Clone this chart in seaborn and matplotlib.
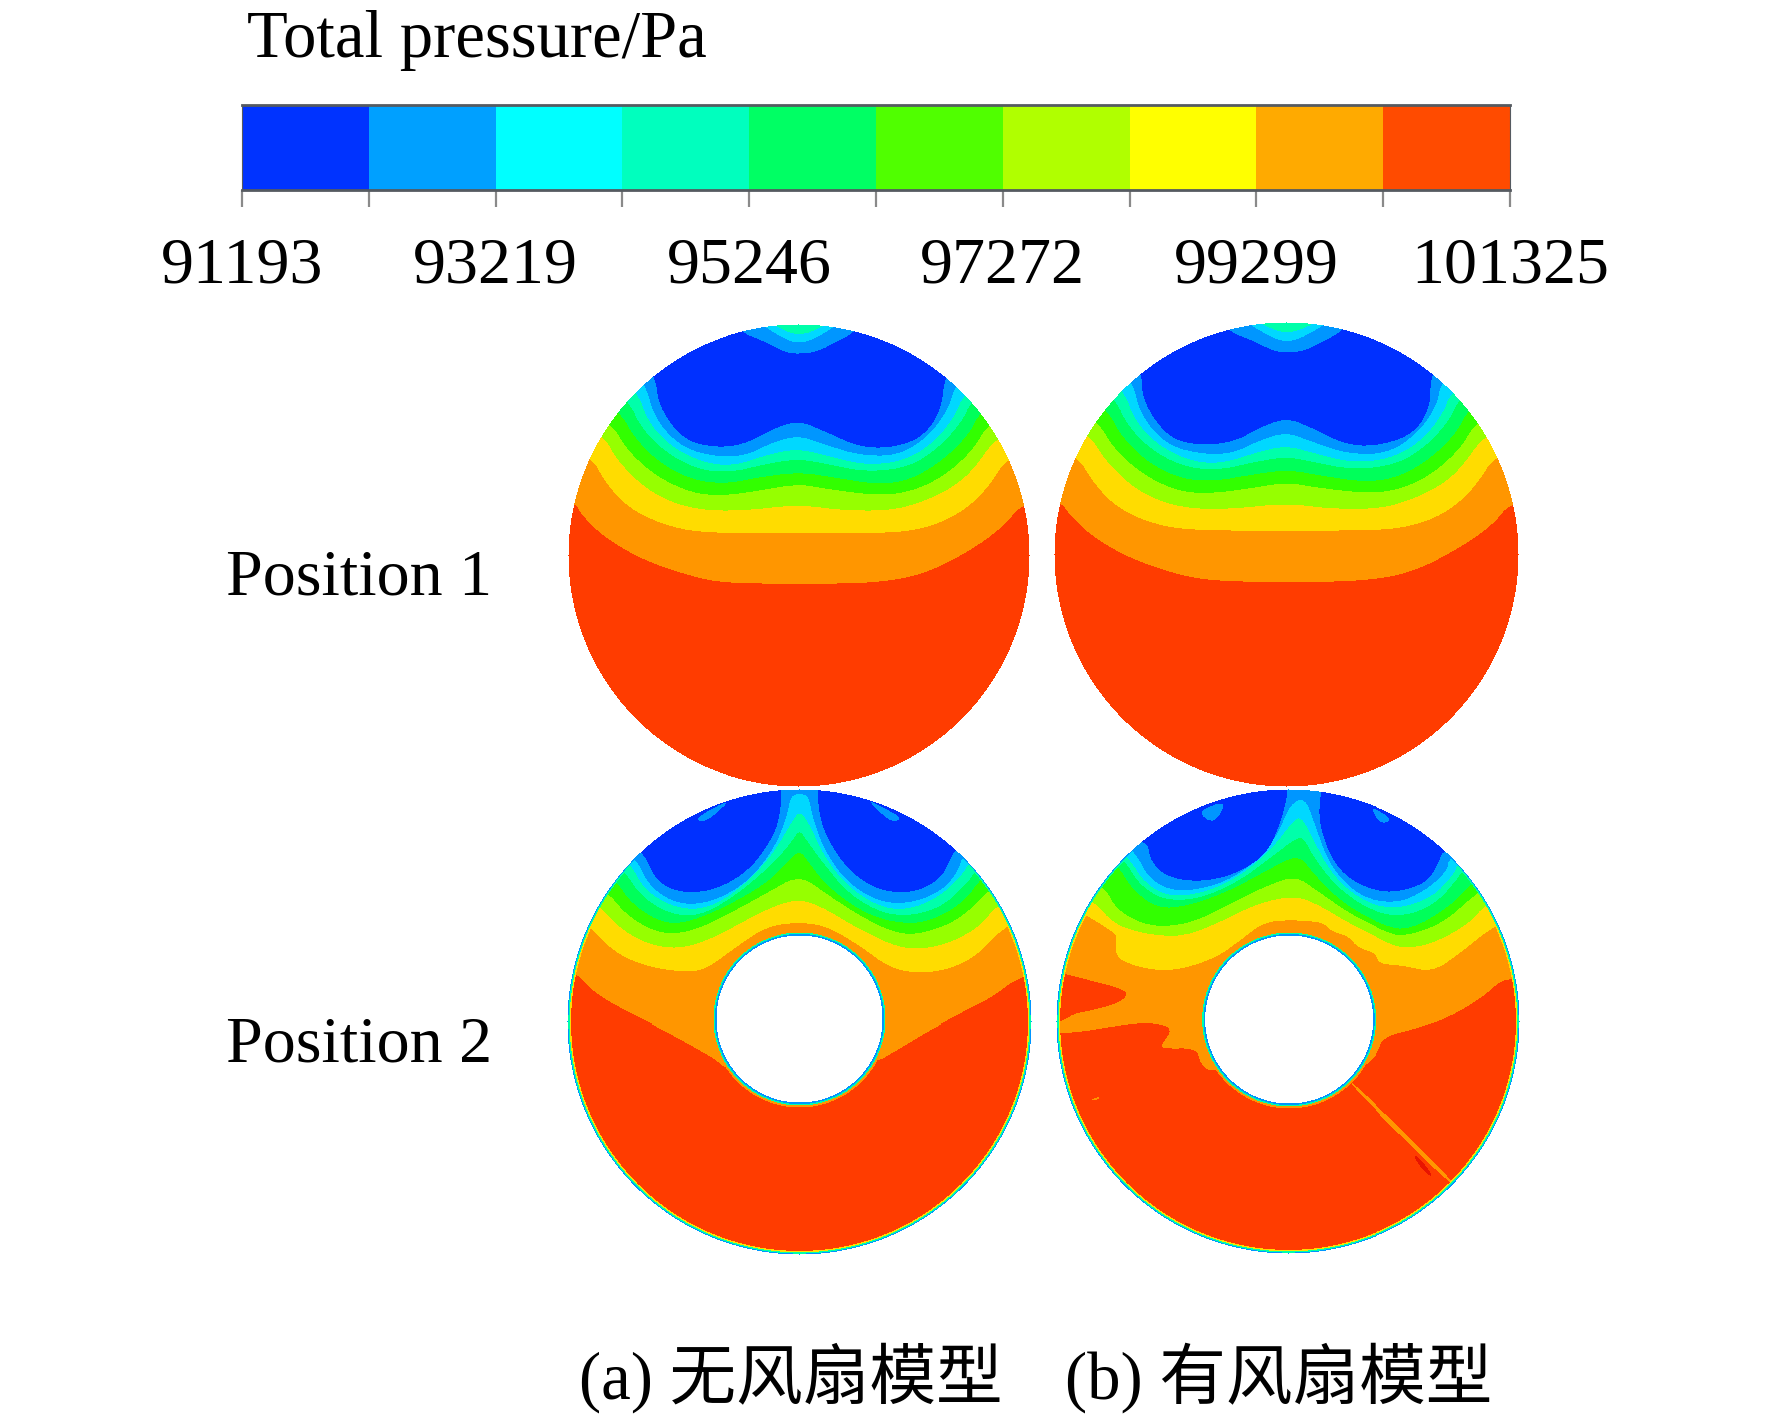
import numpy as np
import matplotlib
matplotlib.use('Agg')
import matplotlib.pyplot as plt
from matplotlib.colors import ListedColormap
from matplotlib.path import Path
import seaborn as sns

# colour levels, low to high pressure
bar_colors = ['#0033ff', '#00a0ff', '#00ffff', '#00ffbe', '#00ff64',
              '#50ff00', '#b0ff00', '#ffff00', '#ffaa00', '#ff4b00']
field_colors = ['#0030ff', '#0096ff', '#00d8ff', '#00ffaa', '#00ff5a',
                '#32ff00', '#96ff00', '#ffdc00', '#ff9600', '#ff3c00', '#e81400']
bar_levels = list(range(10))
tick_labels = ['91193', '', '93219', '', '95246', '', '97272', '', '99299', '', '101325']

# contours, in crop units (1/3 px), listed from orange down to light blue
a_origin = (717, 705)
a_contours = [
    [(45, 545), (60, 580), (130, 650), (250, 720), (400, 770), (500, 788), (717, 790), (950, 788), (1100, 760), (1250, 680), (1340, 610), (1385, 550)],
    [(95, 410), (130, 480), (200, 560), (300, 610), (420, 638), (717, 638), (1000, 638), (1100, 622), (1180, 590), (1250, 540), (1300, 480), (1340, 415)],
    [(130, 345), (170, 420), (250, 500), (330, 545), (430, 570), (560, 570), (717, 552), (850, 570), (1000, 570), (1100, 540), (1180, 500), (1240, 450), (1310, 350)],
    [(155, 310), (200, 390), (290, 470), (400, 520), (500, 525), (600, 510), (717, 490), (800, 505), (950, 525), (1050, 515), (1150, 470), (1240, 390), (1285, 310)],
    [(180, 275), (220, 350), (300, 430), (400, 480), (500, 490), (600, 470), (717, 455), (820, 470), (950, 492), (1050, 480), (1150, 420), (1230, 340), (1260, 275)],
    [(205, 240), (240, 320), (320, 400), (420, 450), (520, 455), (620, 430), (717, 415), (800, 430), (920, 455), (1050, 440), (1140, 380), (1210, 300), (1235, 240)],
    [(230, 210), (265, 310), (340, 385), (440, 430), (530, 435), (630, 400), (717, 385), (800, 405), (920, 435), (1040, 420), (1130, 360), (1190, 280), (1210, 225)],
    [(255, 185), (280, 290), (360, 380), (470, 410), (560, 405), (640, 365), (717, 345), (790, 370), (900, 405), (1020, 405), (1110, 345), (1170, 260), (1185, 195)],
]
a_extras = [
    (0, [(285, 165), (295, 260), (370, 360), (470, 382), (560, 370), (640, 325), (717, 300), (790, 330), (900, 380), (1000, 382), (1090, 350), (1145, 270), (1155, 170),
         (1200, 120), (1000, 30), (900, 10), (880, 38), (830, 65), (770, 95), (717, 100), (680, 97), (620, 65), (550, 38), (530, 10), (400, 30), (230, 120)]),
    (2, [(590, 0), (640, 35), (690, 62), (717, 66), (750, 62), (800, 35), (850, 0), (717, -30)]),
    (3, [(620, 0), (690, 38), (717, 40), (750, 38), (820, 0), (717, -30)]),
]

b_origin = (708, 702)
b_contours = [
    [(35, 545), (50, 575), (120, 645), (240, 715), (390, 765), (500, 782), (708, 785), (940, 782), (1090, 755), (1240, 675), (1330, 610), (1380, 545)],
    [(85, 410), (120, 475), (190, 555), (290, 605), (410, 630), (708, 630), (990, 630), (1090, 615), (1170, 585), (1240, 535), (1290, 475), (1330, 410)],
    [(120, 345), (160, 415), (240, 495), (320, 540), (420, 565), (550, 565), (708, 548), (840, 565), (990, 565), (1090, 535), (1170, 495), (1230, 445), (1300, 345)],
    [(145, 305), (190, 385), (280, 465), (390, 515), (490, 518), (590, 505), (708, 485), (790, 500), (940, 518), (1040, 510), (1140, 465), (1230, 385), (1275, 305)],
    [(170, 265), (210, 345), (290, 425), (390, 475), (490, 482), (590, 465), (708, 447), (810, 465), (940, 485), (1040, 472), (1140, 415), (1220, 335), (1250, 270)],
    [(195, 235), (230, 315), (310, 395), (410, 442), (510, 448), (610, 425), (708, 408), (790, 425), (910, 448), (1040, 432), (1130, 375), (1200, 295), (1225, 235)],
    [(218, 205), (255, 305), (330, 380), (430, 425), (520, 428), (620, 395), (708, 375), (790, 398), (910, 428), (1030, 412), (1120, 355), (1180, 275), (1198, 220)],
    [(245, 175), (270, 285), (350, 375), (460, 402), (550, 398), (630, 358), (708, 335), (780, 362), (890, 400), (1010, 400), (1100, 340), (1160, 255), (1170, 185)],
]
b_extras = [
    (0, [(275, 155), (275, 240), (350, 350), (440, 375), (550, 365), (630, 320), (708, 292), (780, 320), (890, 375), (990, 375), (1090, 340), (1140, 260), (1140, 160),
         (1190, 110), (990, 25), (890, 5), (870, 35), (820, 62), (760, 92), (708, 96), (670, 92), (610, 62), (540, 35), (520, 5), (390, 25), (220, 110)]),
    (2, [(580, 0), (630, 32), (680, 58), (708, 62), (740, 58), (790, 32), (840, 0), (708, -30)]),
    (3, [(610, 0), (680, 32), (708, 35), (740, 32), (810, 0), (708, -30)]),
]

c_origin = (717, 726)
c_hole = (717, 717)
c_contours = [
    [(50, 580), (80, 620), (150, 670), (300, 745), (400, 800), (470, 840), (500, 870), (717, 800), (940, 850), (1000, 815), (1100, 755), (1200, 700), (1300, 650), (1375, 590)],
    [(90, 440), (130, 490), (200, 540), (300, 570), (400, 578), (450, 560), (530, 500), (620, 440), (717, 428), (800, 440), (900, 500), (980, 560), (1050, 580), (1150, 575), (1250, 530), (1330, 440)],
    [(120, 380), (170, 440), (250, 490), (350, 510), (450, 480), (560, 420), (640, 380), (717, 358), (790, 385), (880, 440), (1000, 500), (1080, 510), (1170, 490), (1260, 440), (1310, 375)],
    [(140, 335), (200, 410), (300, 465), (400, 455), (520, 395), (620, 340), (717, 285), (800, 345), (900, 410), (1000, 460), (1080, 465), (1200, 420), (1285, 330)],
    [(165, 300), (210, 370), (300, 430), (380, 430), (500, 380), (620, 310), (680, 250), (717, 210), (745, 250), (800, 320), (900, 395), (1000, 430), (1100, 430), (1210, 370), (1265, 290)],
    [(190, 270), (240, 350), (330, 405), (420, 410), (530, 345), (640, 250), (695, 185), (717, 150), (740, 185), (780, 240), (860, 340), (960, 400), (1050, 410), (1150, 380), (1230, 300), (1245, 270)],
    [(210, 250), (250, 330), (340, 385), (440, 390), (550, 320), (640, 220), (695, 125), (717, 95), (745, 130), (790, 230), (860, 320), (960, 385), (1050, 390), (1140, 350), (1210, 280), (1225, 250)],
    [(230, 240), (265, 320), (350, 375), (450, 370), (560, 310), (640, 210), (680, 110), (690, 50), (717, 42), (745, 50), (755, 110), (790, 210), (860, 310), (960, 370), (1060, 370), (1150, 330), (1195, 270), (1205, 230)],
]
c_extras = [
    (0, [(250, 220), (290, 310), (370, 342), (470, 330), (570, 270), (640, 170), (660, 100), (662, 32), (662, 0), (500, 10), (300, 100), (190, 180)]),
    (0, [(772, 32), (775, 100), (800, 180), (870, 280), (960, 335), (1060, 340), (1140, 300), (1175, 230), (1180, 215), (1250, 180), (1100, 80), (900, 10), (772, 0)]),
    (1, [(405, 120), (440, 95), (510, 60), (470, 100), (430, 128)]),
    (1, [(920, 60), (960, 80), (1025, 115), (1000, 128), (970, 110)]),
]

d_origin = (715, 723)
d_hole = (717, 717)
d_contours = [
    [(0, 760), (90, 755), (180, 740), (280, 725), (350, 735), (362, 755), (335, 790), (335, 805), (440, 803), (450, 850), (490, 880), (717, 800), (930, 870), (985, 820), (1000, 770), (1100, 745), (1200, 710), (1300, 650), (1355, 600), (1395, 595)],
    [(110, 405), (190, 455), (200, 470), (195, 530), (250, 555), (320, 570), (400, 565), (500, 530), (570, 480), (640, 425), (720, 418), (820, 425), (840, 450), (900, 470), (920, 500), (980, 520), (990, 550), (1060, 555), (1150, 575), (1230, 520), (1335, 435)],
    [(135, 365), (190, 430), (280, 460), (400, 470), (520, 420), (620, 370), (730, 345), (800, 370), (900, 430), (1000, 480), (1060, 505), (1150, 490), (1260, 430), (1310, 370)],
    [(165, 320), (200, 390), (300, 440), (420, 430), (540, 370), (640, 320), (735, 285), (800, 330), (900, 400), (1000, 450), (1060, 470), (1180, 430), (1285, 335)],
    [(205, 255), (240, 320), (320, 385), (420, 375), (540, 330), (650, 270), (745, 220), (790, 280), (880, 370), (1000, 435), (1080, 450), (1200, 380), (1265, 310)],
    [(225, 240), (265, 310), (340, 360), (450, 355), (570, 300), (670, 225), (735, 175), (760, 170), (790, 230), (860, 320), (960, 390), (1060, 410), (1160, 370), (1225, 295), (1240, 270)],
    [(235, 230), (285, 310), (360, 350), (470, 335), (580, 280), (670, 200), (730, 120), (755, 110), (785, 170), (850, 290), (950, 370), (1050, 385), (1150, 350), (1215, 280), (1225, 250)],
    [(255, 215), (300, 300), (380, 335), (500, 315), (600, 260), (680, 170), (720, 70), (765, 52), (790, 120), (840, 260), (930, 350), (1040, 370), (1130, 330), (1195, 270), (1200, 230)],
]
d_extras = [
    (0, [(295, 190), (300, 240), (350, 290), (450, 305), (560, 280), (650, 220), (690, 130), (712, 45), (712, 0), (500, 10), (300, 90), (240, 170)]),
    (0, [(812, 42), (805, 120), (840, 230), (900, 300), (990, 335), (1070, 330), (1140, 300), (1175, 230), (1180, 215), (1250, 180), (1100, 80), (900, 10), (812, 0)]),
    (1, [(445, 90), (530, 60), (500, 120), (470, 120)]),
    (1, [(960, 75), (1030, 115), (1005, 130), (980, 115)]),
    (9, [(0, 575), (45, 580), (120, 600), (200, 620), (238, 640), (200, 670), (120, 690), (70, 700), (40, 720), (0, 730)]),
    (8, [(900, 912), (910, 905), (1212, 1200), (1200, 1210)]),
    (10, [(1090, 1125), (1110, 1130), (1155, 1190), (1130, 1180)]),
    (8, [(118, 958), (150, 948), (145, 958)]),
]

# wall layer: (thickness in px, level)
outer_rim = [(3.6, 7), (2.2, 3), (0.9, 1)]
hole_rim = [(5.0, 8), (3.0, 3), (1.6, 1)]

W, H = 1772, 1419
serif = ['Liberation Serif', 'Noto Sans CJK SC']


def chaikin(points, rounds=3):
    pts = np.array(points, dtype=float)
    for _ in range(rounds):
        nxt = np.roll(pts, -1, axis=0)
        pts = np.column_stack([0.75 * pts + 0.25 * nxt, 0.25 * pts + 0.75 * nxt]).reshape(-1, 2)
    return pts


def close_over_top(curve, origin):
    # carry a contour out through the wall and shut it above the disc
    pts = np.array(curve, dtype=float)
    org = np.array(origin, dtype=float)
    start = pts[0] + 0.3 * (pts[0] - org)
    end = pts[-1] + 0.3 * (pts[-1] - org)
    return np.vstack([[start], pts, [end], [1700, -400], [-300, -400]])


def build_field(contours, extras, origin, radius, hole=None, hole_radius=0, rim=False, rounds=3):
    ox, oy = origin
    px = np.arange(-radius, radius + 1)
    xx, yy = np.meshgrid(px, px)
    # grid points in crop units
    pts = np.column_stack([(xx * 3 + ox).ravel(), (yy * 3 + oy).ravel()])
    field = np.full(xx.size, 9, dtype=int)
    for level, curve in zip(range(8, 0, -1), contours):
        field[Path(chaikin(close_over_top(curve, origin), rounds)).contains_points(pts)] = level
    for level, poly in extras:
        field[Path(chaikin(poly, rounds)).contains_points(pts)] = level
    field = field.reshape(xx.shape)

    dist = np.hypot(xx, yy)
    mask = dist > radius
    if rim:
        for thick, level in outer_rim:
            ring = dist > radius - thick
            field[ring] = np.minimum(field[ring], level)
    if hole is not None:
        hole_dist = np.hypot(xx - (hole[0] - ox) / 3, yy - (hole[1] - oy) / 3)
        for thick, level in hole_rim:
            ring = hole_dist < hole_radius + thick
            field[ring] = np.minimum(field[ring], level)
        mask |= hole_dist < hole_radius
    return field, mask


def px_axes(fig, left, top, right, bottom):
    return fig.add_axes([left / W, 1 - bottom / H, (right - left) / W, (bottom - top) / H])


def draw_disc(fig, cx, cy, radius, field, mask):
    ax = px_axes(fig, cx - radius - 0.5, cy - radius - 0.5, cx + radius + 0.5, cy + radius + 0.5)
    sns.heatmap(field, mask=mask, cmap=ListedColormap(field_colors), vmin=-0.5, vmax=10.5,
                cbar=False, xticklabels=False, yticklabels=False, ax=ax)
    ax.axis('off')


def draw_bar(fig):
    ax = px_axes(fig, 242, 105, 1510, 190)
    sns.heatmap(np.array([bar_levels]), cmap=ListedColormap(bar_colors), vmin=-0.5, vmax=9.5,
                cbar=False, yticklabels=False, xticklabels=False, ax=ax)
    ax.set_xticks(np.arange(len(tick_labels)))
    ax.set_xticklabels(tick_labels, fontsize=47.5, family=serif, rotation=0, color='black')
    ax.tick_params(axis='x', bottom=True, length=12.5, width=1.6, color='#8a8a8a', pad=21)
    ax.tick_params(axis='y', left=False)
    for side in ['top', 'bottom', 'left', 'right']:
        ax.spines[side].set_visible(True)
        ax.spines[side].set_color('#555a60')
        ax.spines[side].set_linewidth(2.0 if side in ('top', 'bottom') else 0.8)


def main():
    sns.set_theme(style='white')
    plt.rcParams['font.family'] = serif
    plt.rcParams['text.color'] = 'black'

    fig = plt.figure(figsize=(W / 100, H / 100), dpi=100, facecolor='white')

    fig.text(247 / W, 1 - 57 / H, 'Total pressure/Pa', fontsize=48, family=serif, va='baseline')
    draw_bar(fig)

    field, mask = build_field(a_contours, a_extras, a_origin, 231)
    draw_disc(fig, 799, 555, 231, field, mask)
    field, mask = build_field(b_contours, b_extras, b_origin, 232)
    draw_disc(fig, 1286, 554, 232, field, mask)
    field, mask = build_field(c_contours, c_extras, c_origin, 232, c_hole, 83, rim=True)
    draw_disc(fig, 799, 1022, 232, field, mask)
    field, mask = build_field(d_contours, d_extras, d_origin, 232, d_hole, 84, rim=True, rounds=2)
    draw_disc(fig, 1288, 1021, 232, field, mask)

    fig.text(226 / W, 1 - 594 / H, 'Position 1', fontsize=47.5, family=serif, va='baseline')
    fig.text(226 / W, 1 - 1062 / H, 'Position 2', fontsize=47.5, family=serif, va='baseline')
    fig.text(579 / W, 1 - 1399 / H, '(a) 无风扇模型', fontsize=48, family=serif, va='baseline')
    fig.text(1065 / W, 1 - 1399 / H, '(b) 有风扇模型', fontsize=48, family=serif, va='baseline')

    fig.savefig('out.png', dpi=100)


if __name__ == '__main__':
    main()
